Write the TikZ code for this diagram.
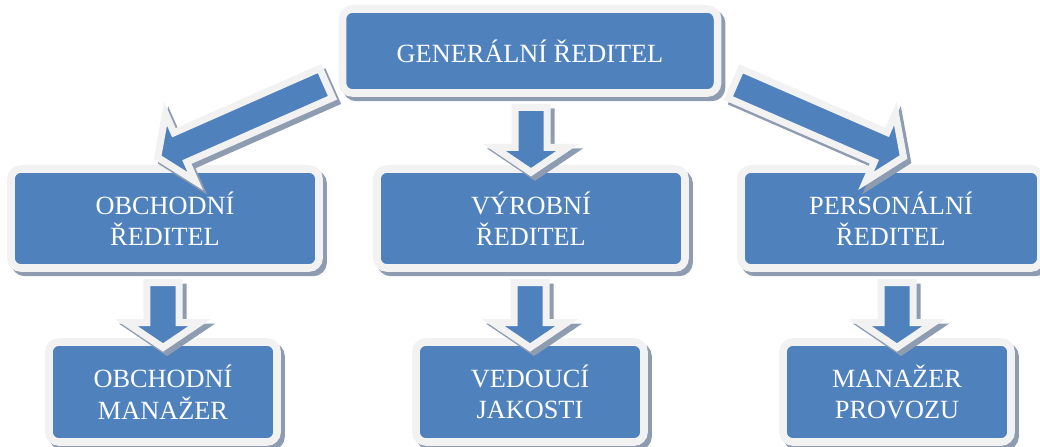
\documentclass[tikz,border=0pt]{standalone}
\usepackage{fontspec}
\setmainfont{Liberation Serif}
\usetikzlibrary{positioning,calc,shapes.arrows,shadows}
\definecolor{boxblue}{RGB}{79,129,189}
\definecolor{rimgray}{RGB}{242,242,242}
\definecolor{shadowgray}{RGB}{142,156,177}
\tikzset{
every picture/.style={
line width=1pt
}}

\begin{document}
\begin{tikzpicture}[x=0.025cm, y=-0.025cm,
hardshadow/.style = {drop shadow={shadow xshift=0.1cm, shadow yshift=-0.11cm, fill=shadowgray, draw=shadowgray, opacity=1}},
block/.style = {rectangle, rounded corners=0.25cm, fill=boxblue, draw=rimgray, line width=0.19cm, text=white, align=center, inner sep=0pt, font=\fontsize{18.7}{22.4}\selectfont, hardshadow},
big/.style = {block, minimum width=9.375cm, minimum height=2.1cm},
mid/.style = {block, minimum width=7.7cm, minimum height=2.475cm},
low/.style = {block, minimum width=5.7cm, minimum height=2.5cm},
blockarrow/.style = {single arrow, fill=boxblue, draw=rimgray, line width=0.175cm, inner xsep=0pt, inner ysep=0.3125cm, minimum width=0pt, single arrow head extend=0.52cm, single arrow tip angle=112, sloped, allow upside down, hardshadow},
short arrow/.style = {blockarrow, minimum height=1.62cm},
long arrow/.style = {blockarrow, minimum height=4.6cm}]
\useasboundingbox (0,0) rectangle (1040,447);

\node[big] at (530,51) (gen) {GENERÁLNÍ ŘEDITEL};
\node[mid] at (165,218.5) (obch) {OBCHODNÍ\\ŘEDITEL};
\node[mid] at (531,218.5) (vyr) {VÝROBNÍ\\ŘEDITEL};
\node[mid, minimum width=7.5cm] at (891,218.5) (pers) {PERSONÁLNÍ\\ŘEDITEL};
\node[low] at (163,392) (obm) {OBCHODNÍ\\MANAŽER};
\node[low] at (530,392) (ved) {VEDOUCÍ\\JAKOSTI};
\node[low] at (897,392) (man) {MANAŽER\\PROVOZU};

% arrows from the top box
\coordinate (t1) at ($(gen.west)+(-10,31)$);
\coordinate (h1) at ($(obch.north)+(0,-11)$);
\coordinate (t2) at ($(gen.east)+(10,31)$);
\coordinate (h2) at ($(pers.north)+(6,-11)$);
\path (t1) -- (h1) node[midway, long arrow] (a1) {};
\path (gen.south -| vyr.north) -- (vyr.north) node[pos=.55, short arrow] (a2) {};
\path (t2) -- (h2) node[midway, long arrow] (a3) {};

% arrows to the bottom row
\path (obch.south -| obm.north) -- (obm.north) node[pos=.57, short arrow] (a4) {};
\path (vyr.south -| ved.north) -- (ved.north) node[pos=.57, short arrow] (a5) {};
\path (pers.south -| man.north) -- (man.north) node[pos=.57, short arrow] (a6) {};
\end{tikzpicture}
\end{document}
